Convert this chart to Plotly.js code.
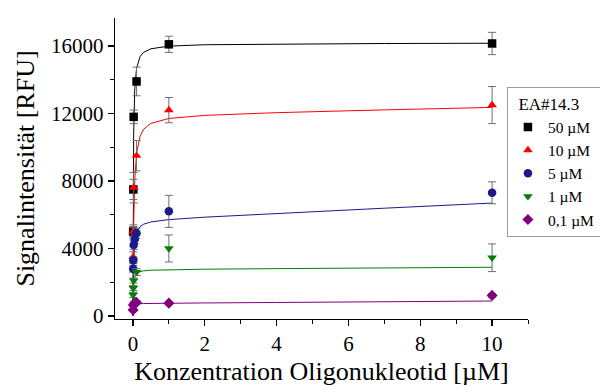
<!DOCTYPE html>
<html>
<head>
<meta charset="utf-8">
<script src="https://cdn.plot.ly/plotly-3.0.1.min.js"></script>
<style>
  html, body { margin: 0; padding: 0; background: #ffffff; }
  #chart { width: 600px; height: 387px; }
</style>
</head>
<body>
<div id="chart"></div>
<script>
// Binding of EA#14.3 at five concentrations against oligonucleotide concentration

const seriesNames = ['50 µM', '10 µM', '5 µM', '1 µM', '0,1 µM'];
const seriesColors = ['#000000', '#ff0000', '#1a1a8c', '#008000', '#800080'];
const seriesSymbols = ['square', 'triangle-up', 'circle', 'triangle-down', 'diamond'];

// Measured points (x in µM, y in RFU) with standard deviations
const x50 = [0.005, 0.01, 0.02, 0.1, 1, 10];
const y50 = [5000, 7500, 11800, 13900, 16100, 16150];
const e50 = [300, 600, 400, 850, 480, 660];

const x10 = [0.005, 0.01, 0.02, 0.1, 1, 10];
const y10 = [3500, 5000, 7600, 9500, 12200, 12500];
const e10 = [300, 400, 900, 900, 750, 1100];

const x5 = [0.005, 0.01, 0.02, 0.05, 0.1, 1, 10];
const y5 = [2800, 3300, 4200, 4550, 4900, 6200, 7300];
const e5 = [200, 200, 250, 250, 300, 950, 650];

const x1 = [0.005, 0.01, 0.02, 0.1, 1, 10];
const y1 = [1250, 1650, 2100, 2600, 4000, 3450];
const e1 = [150, 150, 150, 200, 800, 820];

const x01 = [0.005, 0.01, 0.05, 0.1, 1, 10];
const y01 = [350, 650, 780, 800, 760, 1220];
const e01 = [80, 80, 80, 80, 80, 100];

// Fitted binding curves
const fitX = [0, 0.005, 0.01, 0.02, 0.05, 0.1, 0.2, 0.3, 0.5, 1, 2, 4, 7, 10];
const fit50 = [0, 5383, 8075, 10767, 13458, 14682, 15382, 15630, 15835, 15993, 16076, 16122, 16148, 16164];
const fit10 = [0, 2059, 3512, 5428, 8070, 9634, 10670, 11069, 11416, 11705, 11888, 12049, 12214, 12361];
const fit5 = [0, 1358, 2193, 3169, 4323, 4924, 5298, 5441, 5573, 5710, 5855, 6077, 6387, 6691];
const fit1 = [0, 920, 1380, 1840, 2301, 2510, 2631, 2675, 2712, 2746, 2772, 2805, 2847, 2887];
const fit01 = [0, 372, 497, 596, 678, 711, 730, 737, 745, 755, 771, 800, 842, 885];

const pointsX = [x50, x10, x5, x1, x01];
const pointsY = [y50, y10, y5, y1, y01];
const pointsE = [e50, e10, e5, e1, e01];
const fitsY = [fit50, fit10, fit5, fit1, fit01];

const serif = 'Liberation Serif, Times New Roman, serif';
const traces = [];

// Fit lines first so the markers sit on top
fitsY.forEach((fy, i) => {
  traces.push({
    x: fitX, y: fy, type: 'scatter', mode: 'lines',
    line: { color: seriesColors[i], width: 1 },
    showlegend: false, hoverinfo: 'skip'
  });
});

pointsY.forEach((py, i) => {
  traces.push({
    x: pointsX[i], y: py, type: 'scatter', mode: 'markers',
    name: seriesNames[i],
    marker: { color: seriesColors[i], symbol: seriesSymbols[i], size: 8.5 },
    error_y: { type: 'data', array: pointsE[i], visible: true,
               color: '#6e6e6e', thickness: 1, width: 4 }
  });
});

const layout = {
  width: 600, height: 387,
  margin: { l: 115, r: 72, t: 18, b: 68, autoexpand: false },
  paper_bgcolor: '#ffffff', plot_bgcolor: '#ffffff',
  font: { family: serif, color: '#000000', size: 19 },
  showlegend: true,
  legend: {
    x: 0.949, y: 0.77, xanchor: 'left', yanchor: 'top',
    bgcolor: '#ffffff', bordercolor: '#9a9a9a', borderwidth: 1,
    font: { family: serif, size: 15.5 },
    title: { text: '\u00a0\u00a0EA#14.3', font: { family: serif, size: 17 } },
    tracegroupgap: 0, itemwidth: 30
  },
  xaxis: {
    range: [-0.5, 11], dtick: 2, tick0: 0,
    showgrid: false, zeroline: false,
    showline: true, linecolor: '#000000', linewidth: 1.2,
    ticks: 'outside', ticklen: 6, tickwidth: 1.2, tickcolor: '#000000',
    minor: { dtick: 1, tick0: 0, ticks: 'outside', ticklen: 4, tickwidth: 1, tickcolor: '#000000' },
    tickfont: { family: serif, size: 21 },
    title: { text: 'Konzentration Oligonukleotid [µM]', font: { family: serif, size: 26 }, standoff: 6 }
  },
  yaxis: {
    range: [-180, 17660], dtick: 4000, tick0: 0, tickformat: 'd',
    showgrid: false, zeroline: false,
    showline: true, linecolor: '#000000', linewidth: 1.2,
    ticks: 'outside', ticklen: 6, tickwidth: 1.2, tickcolor: '#000000',
    minor: { dtick: 2000, tick0: 0, ticks: 'outside', ticklen: 4, tickwidth: 1, tickcolor: '#000000' },
    tickfont: { family: serif, size: 21 },
    title: { text: 'Signalintensität [RFU]', font: { family: serif, size: 26 }, standoff: 9 }
  }
};

Plotly.newPlot('chart', traces, layout, { displayModeBar: false, staticPlot: true });
</script>
</body>
</html>
